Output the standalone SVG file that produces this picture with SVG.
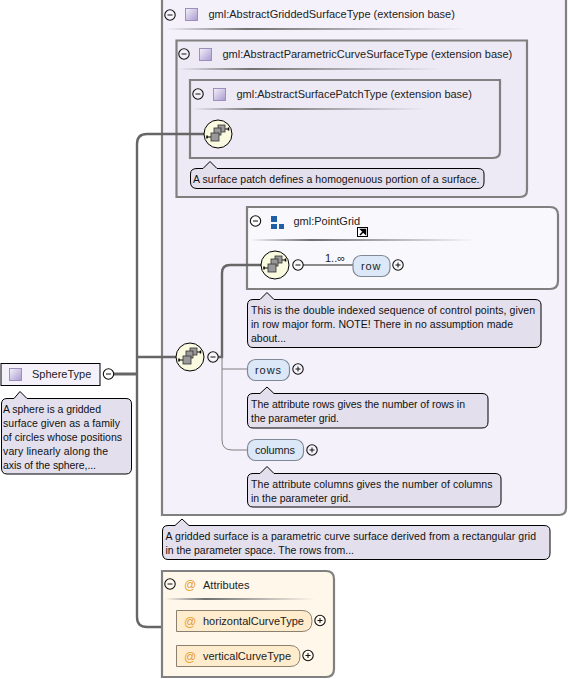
<svg xmlns="http://www.w3.org/2000/svg" width="568" height="679" viewBox="0 0 568 679">
<style>
text{font-family:"Liberation Sans",Arial,sans-serif;font-size:11px;fill:#222}
.note text{font-size:10.500px;fill:#111}
.note path{fill:#e3dfec;stroke:#000;stroke-width:1}
.box{stroke:#808080;stroke-width:2.200}
.tg{fill:url(#g)}
.sq{fill:url(#sq);stroke:#9b8fc0;stroke-width:1}
.btn circle{fill:#fff;fill-opacity:.3;stroke:#111;stroke-width:1.100}
.btn path{stroke:#111;stroke-width:1;fill:none}
.el{fill:#dce8f7;stroke:#7f8a96;stroke-width:1.200}
.at{fill:#ffeccd;stroke:#8a8070;stroke-width:1}
.c{fill:none;stroke:#666;stroke-width:2.400}
.t{fill:none;stroke:#808080;stroke-width:1}
.seqc{fill:#fafae0;stroke:#000;stroke-width:1}
.at-sign{fill:#e8a030;font-size:12px}
</style>
<defs>
<linearGradient id="g"><stop offset="0" stop-color="#707070" stop-opacity="0"/><stop offset=".27" stop-color="#707070"/><stop offset="1" stop-color="#707070" stop-opacity="0"/></linearGradient>
<linearGradient id="sq" x1="0" y1="0" x2="1" y2="1"><stop offset="0" stop-color="#f4f2fa"/><stop offset="1" stop-color="#a99ad0"/></linearGradient>
<g id="seqg"><circle class="seqc" r="14" cx="0" cy="0"/><path d="M-11 3H-6M4-5H10" stroke="#000" stroke-width="1" fill="none"/><rect x="0" y="-9" width="7" height="7" fill="#999" stroke="#333" stroke-width=".8"/><rect x="-4" y="-6" width="7" height="7" fill="#999" stroke="#333" stroke-width=".8"/><rect x="-7" y="-1" width="8" height="8" fill="#999" stroke="#333" stroke-width=".8"/><path d="M-11 1.500v3M10.500-6.500v3" stroke="#000" stroke-width="1.500"/></g>
<g id="minus" class="btn"><circle r="5.200"/><path d="M-2.500 0H2.500"/></g>
<g id="plus" class="btn"><circle r="5.200"/><path d="M-2.500 0H2.500M0-2.500V2.500"/></g>
</defs>
<rect width="568" height="679" fill="#fff"/>
<g id="box-gridded"><path class="box" d="M162-2V515H559Q566 515 566 508V-2Z" fill="#f4f1fa"/><use href="#minus" x="170" y="15"/><rect class="sq" x="185.500" y="8.500" width="12" height="12"/><text x="208.500" y="18">gml:AbstractGriddedSurfaceType (extension base)</text><rect class="tg" x="165" y="28" width="303" height="2"/></g>
<g id="box-parametric"><path class="box" d="M176.500 40.500H527V190Q527 197 520 197H176.500Z" fill="#eeeaf5"/><use href="#minus" x="184" y="54"/><rect class="sq" x="199.500" y="48.500" width="12" height="12"/><text x="222.500" y="58">gml:AbstractParametricCurveSurfaceType (extension base)</text><rect class="tg" x="178" y="68" width="264" height="2"/></g>
<g id="box-patch"><path class="box" d="M190 80H500V151Q500 158 493 158H190Z" fill="#eeeaf5"/><use href="#minus" x="198" y="94"/><rect class="sq" x="213.500" y="88.500" width="12" height="12"/><text x="236.500" y="98">gml:AbstractSurfacePatchType (extension base)</text><rect class="tg" x="192" y="108" width="234" height="2"/></g>
<g id="note-patch" class="note"><path d="M197 168.500H203L210 161.500L217 168.500H478Q484 168.500 484 174V182Q484 188.500 478 188.500H197Q190.500 188.500 190.500 182V174Q190.500 168.500 197 168.500Z"/><text x="193" y="183" textLength="286.500">A surface patch defines a homogenuous portion of a surface.</text></g>
<g id="box-pointgrid"><path class="box" d="M247 207H550Q558 207 558 215V281Q558 289 550 289H247Z" fill="#f9f9fd"/><use href="#minus" x="255.500" y="221"/><path d="M271 216h6v6h-6zM271 224h6v5h-6zM279 224h5v5h-5z" fill="#1f5fa8"/><text x="293.500" y="225">gml:PointGrid</text><rect x="357.500" y="227.500" width="10" height="9" fill="#fff" stroke="#000"/><path d="M360 235l4-4M361 229.500h4.500v4.500z" stroke="#000" stroke-width="1.500" fill="#000"/><rect class="tg" x="250" y="239" width="225" height="2"/></g>
<g id="connectors">
<path class="c" style="stroke-width:3" d="M113 374H137"/>
<path class="c" d="M204 134H147Q137 134 137 144V617Q137 627 147 627H162"/>
<path class="c" d="M137 357H176"/>
<path class="c" d="M261 265H230Q222 265 222 273V357H218"/>
<path class="t" d="M222 357V369H247M222 369V440Q222 450 232 450H247"/>
<path class="c" style="stroke-width:1.500" d="M303 265H353"/>
</g>
<g id="seq-1"><use href="#seqg" x="218" y="134"/></g>
<g id="seq-2"><use href="#seqg" x="275" y="265"/></g>
<g id="seq-3"><use href="#seqg" x="190" y="357"/></g>
<use href="#minus" x="298" y="265"/>
<use href="#minus" x="213" y="357"/>
<text x="325" y="262">1..∞</text>
<g id="row"><rect class="el" x="353" y="255.500" width="37" height="21" rx="8"/><text x="361" y="270" textLength="19.500">row</text><use href="#plus" x="398" y="265"/></g>
<g id="note-row" class="note"><path d="M253 299.500H260L267 292.500L274 299.500H535Q541 299.500 541 305V341Q541 347.500 535 347.500H253Q247.500 347.500 247.500 341V305Q247.500 299.500 253 299.500Z"/><text x="251" y="314" textLength="284">This is the double indexed sequence of control points, given</text><text x="251" y="328" textLength="262">in row major form. NOTE! There in no assumption made</text><text x="251" y="342" textLength="35">about...</text></g>
<g id="rows"><rect class="el" x="247.500" y="359.500" width="42" height="21" rx="8"/><text x="255" y="374" textLength="26">rows</text><use href="#plus" x="298" y="369"/></g>
<g id="note-rows" class="note"><path d="M253 393.500H260L267 387L274 393.500H482Q488 393.500 488 399V422Q488 428 482 428H253Q247.500 428 247.500 422V399Q247.500 393.500 253 393.500Z"/><text x="251" y="408" textLength="214">The attribute rows gives the number of rows in</text><text x="251" y="422" textLength="88">the parameter grid.</text></g>
<g id="columns"><rect class="el" x="247.500" y="439.500" width="56" height="21" rx="8"/><text x="255" y="454" textLength="40">columns</text><use href="#plus" x="312" y="450"/></g>
<g id="note-columns" class="note"><path d="M253 473.500H260L267 466.500L274 473.500H495Q501 473.500 501 479V501Q501 507 495 507H253Q247.500 507 247.500 501V479Q247.500 473.500 253 473.500Z"/><text x="251" y="488" textLength="241.500">The attribute columns gives the number of columns</text><text x="251" y="502" textLength="100">in the parameter grid.</text></g>
<g id="note-gridded" class="note"><path d="M168 525.500H175L182 519L189 525.500H544Q550 525.500 550 531V553Q550 559.500 544 559.500H168Q162.500 559.500 162.500 553V531Q162.500 525.500 168 525.500Z"/><text x="165.500" y="540" textLength="370.500">A gridded surface is a parametric curve surface derived from a rectangular grid</text><text x="165.500" y="554" textLength="188.500">in the parameter space. The rows from...</text></g>
<g id="attributes"><path class="box" d="M162 571H326Q334 571 334 579V669Q334 677 326 677H162Z" fill="#fff7ea"/><use href="#minus" x="170" y="584"/><text class="at-sign" x="184" y="589">@</text><text x="203" y="589">Attributes</text><rect class="tg" x="165" y="598" width="150" height="2"/></g>
<g id="attr-h"><path class="at" d="M176.500 610.500H302Q312 610.500 312 621Q312 631.500 302 631.500H176.500Z"/><text class="at-sign" x="184" y="626">@</text><text x="203" y="625">horizontalCurveType</text><use href="#plus" x="320" y="620.500"/></g>
<g id="attr-v"><path class="at" d="M176.500 645.500H290Q300 645.500 300 656Q300 666.500 290 666.500H176.500Z"/><text class="at-sign" x="184" y="661">@</text><text x="203" y="660">verticalCurveType</text><use href="#plus" x="308" y="655.500"/></g>
<g id="spheretype"><rect x="1" y="363.500" width="99" height="22" fill="#f4f1fa" stroke="#000"/><rect class="sq" x="9.500" y="368.500" width="12" height="12"/><text x="32" y="378">SphereType</text><use href="#minus" x="108.500" y="374"/></g>
<g id="note-sphere" class="note"><path d="M7 398.500H14L20 391.500L27 398.500H126Q131.500 398.500 131.500 404V468Q131.500 474 126 474H7Q1.500 474 1.500 468V404Q1.500 398.500 7 398.500Z"/><text x="3" y="413" textLength="98">A sphere is a gridded</text><text x="3" y="427" textLength="117">surface given as a family</text><text x="3" y="441" textLength="119">of circles whose positions</text><text x="3" y="455" textLength="105">vary linearly along the</text><text x="3" y="469" textLength="93">axis of the sphere,...</text></g>
</svg>
